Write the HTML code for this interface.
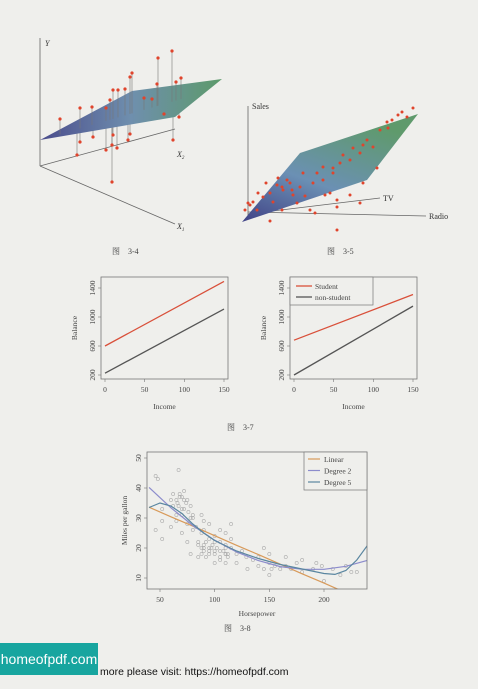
<!DOCTYPE html>
<html><head><meta charset="utf-8"><style>
html,body{margin:0;padding:0;background:#efefec;}
svg{display:block;font-family:"Liberation Serif","Noto Serif CJK SC",serif;}
.banner{position:absolute;left:0;top:643px;width:98px;height:32px;background:#17a59f;color:#fff;font-family:"Liberation Sans",sans-serif;font-size:14px;line-height:32px;text-align:center;}
.visit{position:absolute;left:100px;top:666px;font-family:"Liberation Sans",sans-serif;font-size:10.5px;color:#111;}
</style></head><body>
<svg id="pg" width="478" height="689" viewBox="0 0 478 689">
<defs>
<linearGradient id="g1" x1="0" y1="0" x2="1" y2="0"><stop offset="0" stop-color="#4a4c8c"/><stop offset="0.5" stop-color="#6f8fae"/><stop offset="1" stop-color="#5c9a6a"/></linearGradient>
<linearGradient id="g2" x1="0" y1="1" x2="0.6" y2="0"><stop offset="0" stop-color="#404286"/><stop offset="0.45" stop-color="#6b90b4"/><stop offset="1" stop-color="#5f9a6c"/></linearGradient>
</defs>
<g stroke="#666" stroke-width="0.8" fill="none">
<line x1="40" y1="166" x2="40" y2="38"/>
<line x1="40" y1="166" x2="175" y2="129"/>
<line x1="40" y1="166" x2="175" y2="224"/>
</g>
<g id="stems34"></g>
<polygon points="40,140 132,91 222,79 175,117" fill="url(#g1)"/>
<g id="dots34"></g>
<text x="45" y="46" font-size="8" font-style="italic" fill="#333">Y</text>
<text x="177" y="157" font-size="8" font-style="italic" fill="#333">X<tspan font-size="5" dy="2">2</tspan></text>
<text x="177" y="229" font-size="8" font-style="italic" fill="#333">X<tspan font-size="5" dy="2">1</tspan></text>
<text x="112" y="254" font-size="8" fill="#444">图　3-4</text>
<g stroke="#666" stroke-width="0.8">
<line x1="248" y1="218" x2="248" y2="106"/>
<line x1="248" y1="214" x2="380" y2="198"/>
<line x1="248" y1="212" x2="426" y2="216"/>
</g>
<polygon points="242,222 300,153 418,114 367,180" fill="url(#g2)"/>
<g id="dots35"></g>
<text x="252" y="109" font-size="8" fill="#333">Sales</text>
<text x="383" y="201" font-size="8" fill="#333">TV</text>
<text x="429" y="219" font-size="8" fill="#333">Radio</text>
<text x="327" y="254" font-size="8" fill="#444">图　3-5</text>
<g id="f37"></g>
<text x="227" y="430" font-size="8" fill="#444">图　3-7</text>
<g id="f38"></g>
<text x="224" y="631" font-size="8" fill="#444">图　3-8</text>
</svg>
<div class="banner">homeofpdf.com</div>
<div class="visit">more please visit: https://homeofpdf.com</div>
<script>
const NS="http://www.w3.org/2000/svg";
function mk(tag,attrs,parent){const e=document.createElementNS(NS,tag);for(const k in attrs)e.setAttribute(k,attrs[k]);parent.appendChild(e);return e;}
const dots34X=[60,80,92,77,80,93,110,113,118,125,132,130,106,112,117,113,112,130,128,144,152,158,157,172,176,181,173,164,179,106];
const dots34Y=[119,108,107,155,142,137,100,90,90,89,73,77,150,145,148,135,182,134,140,98,99,58,84,51,82,78,140,114,117,108];
function planeY(x){return 140-0.29*(x-40);}
const s34=document.getElementById('stems34');
const g34=document.getElementById('dots34');
for(let i=0;i<dots34X.length;i++){
 const py=planeY(dots34X[i]);
 const l=mk('line',{x1:dots34X[i],y1:py,x2:dots34X[i],y2:dots34Y[i],stroke:'#777','stroke-width':0.6},dots34Y[i]>py?s34:g34);
 
 
}
for(let i=0;i<dots34X.length;i++){
 const c=mk('circle',{cx:dots34X[i],cy:dots34Y[i],r:1.6,fill:'#e0442c'},g34);
 
 
}
const dots35X=[413,402,398,392,387,407,380,388,367,363,353,360,373,350,340,333,323,317,313,303,300,290,283,277,270,263,258,253,250,245,273,282,287,293,323,333,343,377,363,360,350,337,337,337,330,325,315,310,270,282,297,257,248,266,278,292,305];
const dots35Y=[108,112,115,120,122,117,130,128,140,145,148,153,147,160,163,168,167,173,183,173,187,183,190,185,193,197,193,202,205,210,202,187,180,195,180,173,155,168,183,203,195,200,207,230,193,195,213,210,221,210,203,210,203,183,178,190,196];
const g35=document.getElementById('dots35');
for(let i=0;i<dots35X.length;i++){
 const c=mk('circle',{cx:dots35X[i],cy:dots35Y[i],r:1.5,fill:'#e0442c'},g35);
 
 
}
const incomeTicks=[0,50,100,150];
const balanceTicks=[200,600,1000,1400];
const leftStudent=[600,1490];
const leftNonStudent=[225,1110];
const rightStudent=[680,1310];
const rightNonStudent=[200,1150];
const incomeEnds=[0,150];
function panel(ox,student,non,legend){
 const g=document.getElementById('f37');
 const L=ox,R=ox+127,T=277,B=379;
 const xs=v=>L+4+v*(R-L-8)/150;
 const ys=v=>375-(v-200)*(375-288)/1200;
 const box=mk('rect',{x:L,y:T,width:R-L,height:B-T,fill:'none',stroke:'#777','stroke-width':0.8},g);
 
 
 incomeTicks.forEach(t=>{mk('line',{x1:xs(t),x2:xs(t),y1:B,y2:B+3,stroke:'#777','stroke-width':0.6},g);
  const tx=mk('text',{x:xs(t),y:B+13,'font-size':7.5,'text-anchor':'middle',fill:'#444'},g);tx.textContent=t;
  
  });
 balanceTicks.forEach(t=>{mk('line',{x1:L,x2:L-3,y1:ys(t),y2:ys(t),stroke:'#777','stroke-width':0.6},g);
  const tx=mk('text',{x:L-6,y:ys(t),'font-size':7.5,'text-anchor':'middle',fill:'#444',transform:`rotate(-90 ${L-6} ${ys(t)})`},g);tx.textContent=t;
  
  });
 const xl=mk('text',{x:(L+R)/2,y:B+30,'font-size':7.5,'text-anchor':'middle',fill:'#444'},g);xl.textContent='Income';
 
 
 const yl=mk('text',{x:L-24,y:(T+B)/2,'font-size':7.5,'text-anchor':'middle',fill:'#444',transform:`rotate(-90 ${L-24} ${(T+B)/2})`},g);yl.textContent='Balance';
 
 
 const s=mk('line',{x1:xs(incomeEnds[0]),y1:ys(student[0]),x2:xs(incomeEnds[1]),y2:ys(student[1]),stroke:'#d9503a','stroke-width':1.3},g);
 
 
 const n=mk('line',{x1:xs(incomeEnds[0]),y1:ys(non[0]),x2:xs(incomeEnds[1]),y2:ys(non[1]),stroke:'#555','stroke-width':1.3},g);
 
 
 if(legend){
  const lb=mk('rect',{x:L,y:T,width:83,height:28,fill:'#efefec',stroke:'#777','stroke-width':0.7},g);
  
  
  mk('line',{x1:L+6,x2:L+22,y1:T+9,y2:T+9,stroke:'#d9503a','stroke-width':1.3},g);
  mk('line',{x1:L+6,x2:L+22,y1:T+20,y2:T+20,stroke:'#555','stroke-width':1.3},g);
  const a=mk('text',{x:L+25,y:T+12,'font-size':7.5,fill:'#444'},g);a.textContent='Student';
  
  
  const b=mk('text',{x:L+25,y:T+23,'font-size':7.5,fill:'#444'},g);b.textContent='non-student';
  
  
 }
}
panel(101,leftStudent,leftNonStudent,false);
panel(290,rightStudent,rightNonStudent,true);
const hp=[46,46,48,52,52,52,60,60,62,65,65,65,67,67,68,70,70,70,72,72,75,75,75,78,78,80,80,83,85,85,88,88,88,90,90,90,92,95,95,95,97,100,100,100,105,105,105,110,110,110,110,112,115,115,120,120,125,129,130,135,140,140,145,145,150,150,150,152,155,160,165,165,170,175,180,180,190,193,198,200,208,215,220,225,230,88,90,92,95,98,100,102,105,108,110,112,85,90,95,100,105,110,115,62,66,70,74,76,80,68,72,78];
const mpg=[26,44,43,29,33,23,36,27,38,31,36,29,46,34,38,37,31,25,33,39,36,28,22,30,18,26,30,27,21,17,25,20,31,26,19,29,22,28,18,23,20,15,24,19,22,16,26,20,18,15,25,17,23,28,18,15,19,17,13,16,14,17,20,13,15,18,11,13,14,13,14,17,13,15,12,16,13,15,14,9,13,11,14,12,12,18,20,17,19,21,18,20,17,19,21,18,22,21,20,22,19,18,20,34,35,33,35,32,31,37,36,34];
const fitHp=[40,60,80,100,120,140,160,180,200,220,240];
const linearFit=[33.6,30.4,27.3,24.1,20.9,17.8,14.6,11.4,8.3,5.1,1.9];
const deg2Fit=[40.2,33.4,27.5,22.6,18.7,15.8,13.8,12.9,12.9,13.9,15.9];
const deg5Hp=[40,50,60,70,80,90,100,120,140,160,180,200,210,220,230,240];
const deg5Fit=[33.5,35,34,31.5,28,25,22.5,19,16.5,14.5,13,11.5,11.2,12.5,16,21];
const hpTicks=[50,100,150,200];
const mpgTicks=[10,20,30,40,50];
(function(){
 const g=document.getElementById('f38');
 const L=147,R=367,T=452,B=589;
 const xs=v=>160+(v-50)*(324-160)/150;
 const ys=v=>578-(v-10)*(578-458)/40;
 const cp=mk('clipPath',{id:'c38'},g);mk('rect',{x:L,y:T,width:R-L,height:B-T},cp);
 for(let i=0;i<Math.min(hp.length,mpg.length);i++){
  const c=mk('circle',{cx:xs(hp[i]),cy:ys(mpg[i]),r:1.6,fill:'none',stroke:'#aaa','stroke-width':0.6},g);
  
  
 }
 function curve(xa,ya,col,name){
  const p=mk('polyline',{points:xa.map((x,i)=>xs(x)+','+ys(ya[i])).join(' '),fill:'none',stroke:col,'stroke-width':1.2,'clip-path':'url(#c38)'},g);
  
  
 }
 curve(fitHp,linearFit,'#d89a5a','linear-fit');
 curve(fitHp,deg2Fit,'#8c8ccc','degree-2-fit');
 curve(deg5Hp,deg5Fit,'#5a86a0','degree-5-fit');
 const box=mk('rect',{x:L,y:T,width:R-L,height:B-T,fill:'none',stroke:'#777','stroke-width':0.8},g);
 
 
 hpTicks.forEach(t=>{mk('line',{x1:xs(t),x2:xs(t),y1:B,y2:B+3,stroke:'#777','stroke-width':0.6},g);
  const tx=mk('text',{x:xs(t),y:B+13,'font-size':7.5,'text-anchor':'middle',fill:'#444'},g);tx.textContent=t;
  
  });
 mpgTicks.forEach(t=>{mk('line',{x1:L,x2:L-3,y1:ys(t),y2:ys(t),stroke:'#777','stroke-width':0.6},g);
  const tx=mk('text',{x:L-6,y:ys(t),'font-size':7.5,'text-anchor':'middle',fill:'#444',transform:`rotate(-90 ${L-6} ${ys(t)})`},g);tx.textContent=t;
  
  });
 const xl=mk('text',{x:(L+R)/2,y:B+27,'font-size':7.5,'text-anchor':'middle',fill:'#444'},g);xl.textContent='Horsepower';
 
 
 const yl=mk('text',{x:L-20,y:(T+B)/2,'font-size':7.5,'text-anchor':'middle',fill:'#444',transform:`rotate(-90 ${L-20} ${(T+B)/2})`},g);yl.textContent='Miles per gallon';
 
 
 const lb=mk('rect',{x:304,y:T,width:63,height:38,fill:'#efefec',stroke:'#777','stroke-width':0.7},g);
 
 
 [['Linear','#d89a5a'],['Degree 2','#8c8ccc'],['Degree 5','#5a86a0']].forEach((e,i)=>{
  mk('line',{x1:308,x2:320,y1:T+7+i*11.5,y2:T+7+i*11.5,stroke:e[1],'stroke-width':1.2},g);
  const t=mk('text',{x:324,y:T+10+i*11.5,'font-size':7.5,fill:'#444'},g);t.textContent=e[0];
  
  
 });
})();
</script>
</body></html>
